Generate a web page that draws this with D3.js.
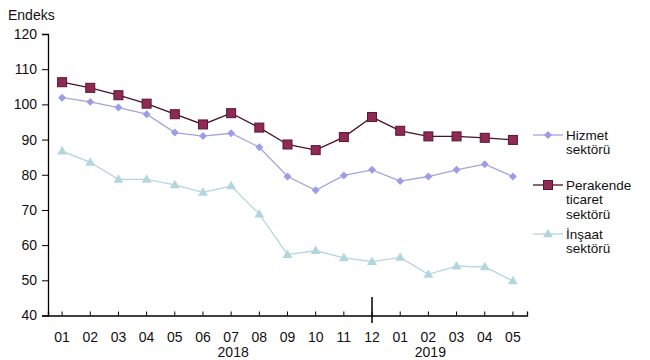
<!DOCTYPE html>
<html><head><meta charset="utf-8">
<script src="https://cdn.jsdelivr.net/npm/d3@7"></script>
<style>body{margin:0;background:#fff}svg{display:block}text{font-family:"Liberation Sans",Arial,sans-serif;fill:#111}</style>
</head><body><svg id="c" width="650" height="360"></svg>
<script>
const months = ["01","02","03","04","05","06","07","08","09","10","11","12","01","02","03","04","05"];
const years = [{label:"2018", at:6}, {label:"2019", at:13}];
const hizmet = [101.9,100.7,99.1,97.2,92.0,91.0,91.8,87.8,79.5,75.6,79.8,81.4,78.2,79.5,81.4,83.0,79.5];
const perakende = [106.3,104.7,102.6,100.2,97.2,94.3,97.5,93.4,88.6,87.0,90.7,96.4,92.5,90.9,90.9,90.5,89.9];
const insaat = [86.7,83.5,78.7,78.7,77.1,75.0,76.8,68.8,57.3,58.4,56.4,55.3,56.5,51.7,54.0,53.8,49.8];
const yTicks = [40,50,60,70,80,90,100,110,120];
const seriesNames = [["Hizmet","sektörü"],["Perakende","ticaret","sektörü"],["İnşaat","sektörü"]];

const svg = d3.select("#c");
const x = d3.scaleBand().domain(d3.range(months.length)).range([48,527]);
const cx = i => x(i) + x.bandwidth()/2;
const y = d3.scaleLinear().domain([40,120]).range([315.5,34]);

// y axis
const ya = svg.append("g").attr("transform","translate(48,0)")
  .call(d3.axisLeft(y).tickValues(yTicks).tickSize(6).tickPadding(5));
ya.select(".domain").attr("stroke","#000").attr("stroke-width",1.3);
ya.selectAll(".tick line").attr("stroke","#000");
ya.selectAll("text").attr("font-size",14).attr("fill","#111").attr("font-family","Liberation Sans, Arial, sans-serif");

// x axis
const xa = svg.append("g").attr("transform","translate(0,315.5)")
  .call(d3.axisTop(x).tickFormat(()=>"").tickSize(4).tickSizeOuter(4));
xa.select(".domain").attr("stroke","#000").attr("stroke-width",1.3);
xa.selectAll(".tick line").attr("stroke","#000").attr("transform", d => `translate(${x.bandwidth()/2},0)`);
xa.selectAll(".tick").attr("transform", d => `translate(${x(d)},0)`);
// month labels
svg.append("g").selectAll("text").data(months).join("text")
  .attr("x",(d,i)=>cx(i)).attr("y",342).attr("text-anchor","middle").attr("font-size",14).text(d=>d);
// year labels
svg.append("g").selectAll("text").data(years).join("text")
  .attr("x",d=>cx(d.at)+2)
  .attr("y",357).attr("text-anchor","middle").attr("font-size",14).text(d=>d.label);
// year separator
svg.append("line").attr("x1",cx(11)).attr("x2",cx(11)).attr("y1",297).attr("y2",323)
  .attr("stroke","#000").attr("stroke-width",1.5);

svg.append("text").attr("x",8).attr("y",20).attr("font-size",14).text("Endeks");

const line = d3.line().x((d,i)=>cx(i)).y(d=>y(d));
const specs = [
  {data:insaat, stroke:"#b3d6de", fill:"#b3d6de", mark:"tri"},
  {data:hizmet, stroke:"#a3a3e0", fill:"#9c9ce8", mark:"dia"},
  {data:perakende, stroke:"#4a1228", fill:"#8e2a55", mark:"sq"}
];
function drawMark(g, mark, px, py, fill){
  if(mark==="sq") g.append("rect").attr("x",px-4.5).attr("y",py-4.5).attr("width",9).attr("height",9)
     .attr("fill",fill).attr("stroke","#5a1630").attr("stroke-width",1);
  else if(mark==="dia") g.append("path").attr("d",d3.symbol(d3.symbolDiamond2,40)()).attr("transform",`translate(${px},${py})`).attr("fill",fill);
  else g.append("path").attr("d",d3.symbol(d3.symbolTriangle,42)()).attr("transform",`translate(${px},${py+0.5})`).attr("fill",fill);
}
specs.forEach(s=>{
  svg.append("path").datum(s.data).attr("d",line).attr("fill","none").attr("stroke",s.stroke).attr("stroke-width",1.3);
  const g = svg.append("g");
  s.data.forEach((v,i)=>drawMark(g,s.mark,cx(i),y(v),s.fill));
});

// legend
const legY = [135,185,234];
const legOrder = [1,2,0];
legOrder.forEach((si,k)=>{
  const s = specs[si];
  const ly = legY[k];
  svg.append("line").attr("x1",533).attr("x2",563).attr("y1",ly).attr("y2",ly).attr("stroke",s.stroke).attr("stroke-width",1.3);
  drawMark(svg.append("g"), s.mark, 548, ly, s.fill);
  const t = svg.append("text").attr("x",566).attr("y",ly+4.5).attr("font-size",13.5);
  seriesNames[k].forEach((w,j)=>t.append("tspan").attr("x",566).attr("dy",j?14.5:0).text(w));
});
</script></body></html>
